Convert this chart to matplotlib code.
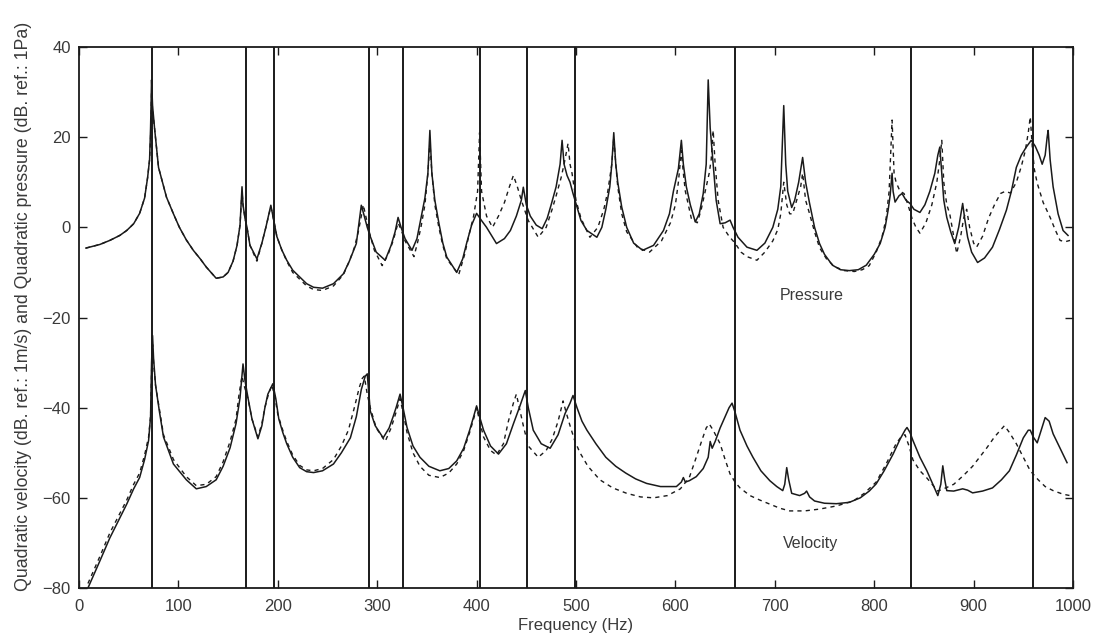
import matplotlib
matplotlib.use("Agg")
import matplotlib.pyplot as plt

plt.rcParams['font.family'] = ['Liberation Sans', 'DejaVu Sans']

# ---------------- data ----------------
# Pressure, solid curve (Hz, dB)
p_solid_f = [7, 21, 31, 41, 48, 55, 61, 66, 69, 71, 72, 73, 74, 76, 80, 88, 95, 101, 108, 115,
             122, 128, 138, 145, 150, 155, 159, 162, 164, 165, 167, 169, 172, 179, 184, 188, 193,
             196, 199, 204, 209, 215, 222, 229, 236, 245, 256, 266, 272, 279, 284, 287, 290, 293, 299, 308, 314, 318, 321,
             324, 328, 335, 340, 344, 348, 351, 353, 355, 358, 362, 366, 370, 380, 386, 390, 395, 400, 405, 410,
             420, 428, 434, 440, 445, 447, 450, 454, 460, 466, 471, 475, 480, 484, 486, 488, 491, 494, 497, 499,
             505, 511, 521, 526, 530, 534, 536, 538, 540, 542, 546, 551, 558, 567, 578, 588, 594, 598, 603, 606,
             608, 611, 615, 620, 624, 628, 631, 633, 635, 638, 641, 645, 650, 655, 658, 663, 672, 682, 690, 698,
             703, 706, 709, 711, 713, 717, 720, 724, 728, 731, 735, 740, 745, 750, 758, 766, 775, 784, 792, 800,
             806, 811, 814, 816, 818, 819, 821, 825, 828, 832, 836, 840, 846, 851, 856, 861, 864, 866, 868, 870,
             873, 877, 881, 885, 889, 891, 894, 898, 904, 911, 919, 926, 933, 938, 943, 948, 953, 958, 962, 966,
             969, 972, 974, 975, 977, 980, 985, 990, 995]
p_solid_db = [-4.6, -3.8, -2.9, -1.8, -0.7, 0.8, 3.1, 6.5, 11, 15, 22, 32.7, 27, 22, 13.3, 6.7, 3, 0, -2.8, -5.1,
              -7, -8.8, -11.3, -11, -10, -7.5, -4, 0.5, 9, 5, 2, 0, -4, -7, -3.5, 0, 4.9,
              1.5, -2, -5, -7.3, -9.5, -11, -12.5, -13.3, -13.5, -12.5, -10.3, -7.5, -3.6, 4.9, 2.5, 0, -2, -5.5, -7.3, -4, -1, 2.2,
              0, -2.5, -5.1, -2.5, 2, 6.5, 12, 21.5, 12, 6, 1, -3.5, -6.6, -10, -7, -3.5, 0.5, 3.1, 1.5, 0,
              -3.6, -2.5, -0.7, 2.5, 6, 8.9, 5, 2.5, 0.5, -0.3, 2, 5, 9, 14, 19.3, 14, 11.5, 10, 7.5, 6,
              1.5, -0.7, -2.2, 0, 4, 9, 14, 21, 14, 10, 4.5, 0, -3.5, -5.1, -4, -0.7, 3, 8, 13, 19.3,
              14, 9, 5, 1.2, 3, 7.5, 14, 32.7, 22, 14, 6, 0.8, 1, 1.6, 0, -2.2, -4.4, -5.1, -3.5, 0,
              4, 9, 27, 14, 8, 4.4, 6, 10, 15.5, 10, 5.3, 0, -3.6, -6, -8.4, -9.4, -9.6, -9.4, -8.4, -6,
              -3.6, 0, 3.8, 7, 12, 8, 5.6, 7, 7.5, 6, 5.3, 4, 3.3, 5, 8, 12, 16, 17.8, 12, 6,
              2.2, -1, -3.6, 0, 5.3, 2, -2.2, -5.5, -7.8, -6.8, -4.4, -0.5, 3.8, 8, 13.3, 16, 17.8, 19.3, 18, 16,
              14, 16, 20, 21.5, 15, 9, 3, -0.7, -1.8]

# Pressure, dashed curve (Hz, dB)
p_dash_f = [7, 21, 31, 41, 48, 55, 61, 66, 69, 71, 72, 73, 74, 76, 80, 88, 95, 101, 108, 115,
            122, 128, 138, 145, 150, 155, 159, 162, 164, 165, 167, 169, 172, 179, 184, 188, 193,
            196, 199, 204, 209, 215, 222, 229, 236, 245, 256, 266, 272, 277, 281, 284, 286, 289, 292, 297, 305, 311, 316,
            321, 324, 328, 337, 341, 344, 348, 351, 353, 355, 358, 362, 366, 370, 382, 388, 392, 397, 401, 403,
            405, 410, 416, 422, 428, 433, 437, 441, 445, 452, 462, 470, 476, 480, 485, 488, 492, 494, 496, 500,
            505, 514, 522, 528, 532, 536, 538, 540, 542, 546, 551, 562, 574, 586, 595, 600, 603, 606, 608, 610,
            616, 622, 626, 630, 634, 636, 638, 640, 643, 648, 654, 660, 666, 672, 682, 690, 698, 703, 706, 709,
            712, 715, 718, 722, 726, 728, 731, 735, 740, 745, 752, 760, 770, 780, 788, 795, 802, 808, 812, 815,
            818, 820, 822, 826, 830, 834, 838, 842, 846, 852, 858, 863, 866, 868, 870, 873, 876, 880, 883, 887,
            890, 893, 896, 900, 903, 909, 915, 921, 927, 932, 937, 943, 948, 952, 955, 957, 959, 961, 964, 970,
            977, 982, 987, 992, 997]
p_dash_db = [-4.6, -3.8, -2.9, -1.8, -0.7, 0.8, 3.1, 6.5, 11, 15, 20, 30, 26, 22, 13.3, 6.7, 3, 0, -2.8, -5.1,
             -7, -8.8, -11.3, -11, -10, -7.5, -4, 0.5, 8, 5, 2, 0, -4, -7.5, -3.5, 0, 4.6,
             1.5, -2, -5, -7.5, -10, -11.5, -13, -13.8, -14, -13, -10.5, -7.5, -4.5, -1, 2.5, 5, 2, -1, -5, -8.5, -6, -3,
             1, -0.5, -3, -6.5, -3, 0, 5, 12, 19, 12, 5, 0, -4, -7, -10.5, -6, -2, 2.5, 8, 21,
             8, 2.5, 0, 2.5, 5.5, 9, 11.5, 9, 6, 1.5, -2.2, 0, 4, 7, 11, 14, 18.6, 14, 12, 6,
             2, -2.2, 0, 4, 8, 14, 20, 14, 9, 3, -1, -4.5, -5.5, -3, 1, 5, 10, 17, 12, 8,
             2, 1, 4, 8, 12, 15, 21.5, 14, 6, 0, -2, -3.5, -5.5, -6.5, -7.3, -5.5, -3, -0.5, 3, 10,
             5, 3, 3, 6, 9, 12, 6, 3, -1, -4.5, -7, -8.7, -9.6, -9.8, -9.4, -8.5, -5.5, -2, 2, 8,
             23.8, 12, 10, 8, 7.5, 5, 2, 0, -1.3, 1, 5, 10, 15, 19.3, 10, 5, 3, -2, -5.8, -2,
             2, 4, 0, -3.5, -4.4, -2, 2, 5, 7.5, 8, 7.6, 10, 13.5, 17, 21, 24.5, 18, 13, 9.8, 5.5,
             2.2, -0.5, -2.9, -3.2, -2.9]

# Velocity, solid curve (Hz, dB)
v_solid_f = [9, 15, 21, 31, 41, 48, 55, 61, 66, 70, 72, 73, 74, 75, 77, 81, 85, 95, 108, 118,
             128, 138, 145, 152, 158, 162, 165, 167, 170, 174, 180, 184, 187,
             190, 195, 198, 201, 205, 209, 215, 222, 229, 236, 245, 256, 264, 273, 279, 284, 288, 290, 293, 298, 306,
             312, 316, 319, 323, 326, 330, 336, 343, 352, 363, 372, 380, 387, 393, 397, 400, 403, 407, 414, 422,
             430, 437, 443, 449, 452, 457, 465, 474, 482, 489, 494, 497, 501, 506, 511, 520, 530, 540, 550, 560,
             571, 585, 601, 606, 608, 610, 614, 621, 628, 633, 635, 637, 640, 645, 650, 654, 657, 660, 665, 672,
             678, 686, 695, 702, 708, 710, 712, 714, 717, 725, 730, 732, 735, 740, 750, 762, 775, 786, 795, 802,
             810, 819, 826, 831, 833, 836, 839, 846, 853, 859, 864, 867, 869, 871, 873, 880, 889, 894, 899, 909,
             919, 928, 936, 943, 950, 955, 957, 960, 964, 968, 972, 976, 980, 987, 994]
v_solid_db = [-80, -77, -74, -68.9, -64.5, -61.4, -58, -55.5, -51.5, -47.3, -42, -30, -24, -29, -35, -41, -46.5, -52.5, -56, -58,
              -57.5, -56, -53, -48.9, -43.5, -37.8, -30.3, -34, -37.8, -42.5, -46.9, -44, -40,
              -37, -34.7, -38, -42.5, -45.5, -48, -51, -53.3, -54.2, -54.4, -54, -52.5, -50, -46.7, -42, -36, -33, -32.5, -40.7, -44, -46.7,
              -44.5, -42, -40, -37, -40, -44.4, -48.5, -51, -53, -54, -53.5, -51.8, -49, -45, -42, -39.6, -42, -45, -48.5, -50.3,
              -48, -43.6, -40, -36.2, -40, -45, -48, -49, -46, -41.3, -39, -37.3, -40, -43, -45, -48, -51, -53, -54.5, -55.8,
              -56.8, -57.5, -57.5, -56.5, -55.5, -56.5, -56.2, -55.3, -53.5, -51, -47.5, -49, -47.5, -44.5, -42, -40, -39, -41, -45, -48.5,
              -51, -54, -56.2, -57.5, -58.4, -57, -53.3, -56, -59, -59.5, -59, -58.5, -59.8, -60.7, -61.2, -61.3, -61, -60, -58.5, -56.9,
              -54, -50.3, -47, -45, -44.4, -45.5, -47.3, -51, -54, -57, -59.5, -57, -52.9, -56, -58.4, -58.5, -58, -58.3, -58.9, -58.5,
              -57.8, -56, -54, -50.5, -46.7, -45, -45, -46.5, -47.8, -45, -42.2, -43, -45.8, -49, -52.2]

# Velocity, dashed curve (Hz, dB)
v_dash_f = [9, 15, 21, 31, 41, 48, 55, 61, 66, 70, 72, 73, 74, 75, 77, 81, 85, 95, 108, 118,
            128, 138, 145, 152, 158, 161, 164, 166, 170, 174, 180, 184, 187,
            190, 194, 197, 200, 205, 209, 215, 222, 229, 236, 245, 256, 264, 271, 277, 282, 285, 287, 290, 293, 299,
            308, 314, 319, 323, 326, 330, 336, 343, 352, 363, 372, 380, 387, 393, 397, 400, 403, 407, 414, 420,
            427, 432, 437, 440, 443, 447, 452, 462, 470, 476, 482, 487, 490, 494, 499, 504, 512, 524, 537, 551,
            565, 578, 592, 605, 614, 621, 627, 631, 634, 638, 645, 650, 655, 660, 665, 675, 685, 695, 705, 715,
            730, 745, 762, 779, 790, 802, 812, 822, 827, 831, 835, 839, 846, 853, 864, 872, 880, 890, 899, 906,
            913, 921, 927, 931, 936, 943, 950, 957, 965, 972, 980, 990, 997]
v_dash_db = [-79, -76, -73, -67.8, -63.5, -60.5, -57, -54.5, -50.5, -46.5, -42, -32, -26, -30, -35, -40.5, -46, -51.5, -55.3, -57.3,
             -57, -55.3, -52, -47.5, -42.5, -37, -33, -35, -38, -42.5, -46.5, -43.5, -40,
             -37.5, -35, -37.5, -41.5, -45, -47.5, -50.5, -52.8, -53.8, -54, -53.5, -51.5, -48.5, -45, -40, -35.5, -33.5, -33, -37, -40, -44.5,
             -47.5, -44.5, -41, -38, -41, -45.5, -50, -53, -55, -55.5, -54.5, -52.5, -49.5, -45.5, -42.5, -40, -43, -46.5, -49.5, -50.5,
             -48, -43, -39, -37, -40, -44, -48.5, -51, -49.5, -47, -43, -38.5, -41, -44, -47.5, -50, -53, -56, -57.8, -59,
             -59.8, -60, -59.5, -58, -55.5, -51, -47, -44.5, -43.6, -45, -48, -51.5, -54.7, -56.5, -57.8, -59.5, -60.5, -61.4, -62.3, -62.9,
             -62.9, -62.5, -61.8, -60.7, -59, -56.5, -52.5, -48, -46.5, -46, -48.5, -51.6, -54, -55.6, -58.5, -57.8, -57, -55, -53, -51,
             -49, -46.5, -45, -44, -45.5, -48, -51, -54, -56, -57.5, -58.4, -59.2, -59.5]

# Vertical reference lines (Hz)
mode_freqs = [73, 168, 196, 292, 326, 403, 451, 499, 660, 837, 960]

x_ticks = [0, 100, 200, 300, 400, 500, 600, 700, 800, 900, 1000]
y_ticks = [-80, -60, -40, -20, 0, 20, 40]

labels = ["Pressure", "Velocity"]
label_pos_f = [737, 736]
label_pos_db = [-15.1, -70.2]

# ---------------- figure ----------------
W, H = 1096, 641
fig = plt.figure(figsize=(W / 100, H / 100), dpi=100)
ax = fig.add_axes([79 / W, 53 / H, 994 / W, 541 / H])

ink = "#1a1a1a"
txt = "#3a3a3a"

for f in mode_freqs:
    ax.axvline(f, color=ink, lw=1.4, zorder=1)

ax.plot(p_solid_f, p_solid_db, color=ink, lw=1.1, zorder=3)
ax.plot(p_dash_f, p_dash_db, color=ink, lw=1.0, ls=(0, (3, 3)), zorder=2)
ax.plot(v_solid_f, v_solid_db, color=ink, lw=1.1, zorder=3)
ax.plot(v_dash_f, v_dash_db, color=ink, lw=1.0, ls=(0, (3, 3)), zorder=2)

for s, f, d in zip(labels, label_pos_f, label_pos_db):
    ax.text(f, d, s, ha="center", va="center", fontsize=11.5, color=txt)

ax.set_xlim(0, 1000)
ax.set_ylim(-80, 40)
ax.set_xticks(x_ticks)
ax.set_yticks(y_ticks)
ax.tick_params(direction="in", top=True, right=True, length=6, width=1.0,
               labelsize=12, labelcolor=txt, color=ink, pad=6)
ax.tick_params(axis="x", pad=8)
for sp in ax.spines.values():
    sp.set_linewidth(1.3)
    sp.set_color(ink)

ax.set_xlabel("Frequency (Hz)", fontsize=12, color=txt, labelpad=3)
ax.set_ylabel("Quadratic velocity (dB. ref.: 1m/s) and Quadratic pressure (dB. ref.: 1Pa)",
              fontsize=12.8, color=txt)
ax.yaxis.set_label_coords(-47 / 994, (641 - 306 - 53) / 541)

fig.savefig("out.png", dpi=100)
